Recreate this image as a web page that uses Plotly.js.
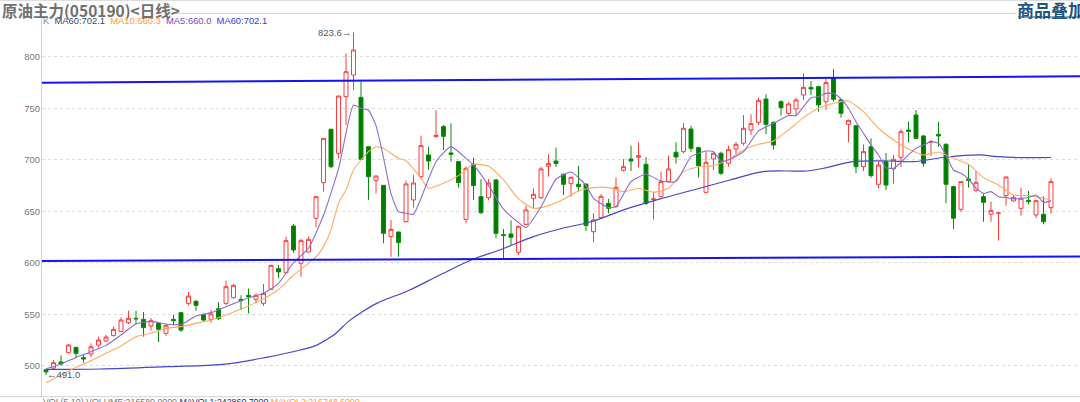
<!DOCTYPE html>
<html>
<head>
<meta charset="utf-8">
<script src="https://cdn.plot.ly/plotly-3.0.1.min.js"></script>
<style>html,body{margin:0;padding:0;background:#fff;}#chart{width:1080px;height:402px;}</style>
</head>
<body>
<div id="chart"></div>
<script>
// ---- candle data (one per trading day, left to right) ----
const openVals = [496,497.7,503.6,512.6,517.8,507.8,511.3,520,524,529.4,533.3,541.7,546,545,538.5,541.1,531.4,545,551.5,560.5,562.5,549.5,545,555.3,560.5,566,
564.4,568.3,564.4,560.5,574.1,594.2,590.3,635.6,599.4,610.4,643.1,677.7,729.5,706.2,761.2,782.2,760.5,712.6,679.6,675.1,625.3,629.8,639.8,
660.9,683.5,704.6,722.4,732.1,706.5,698.1,642.1,695.5,664.1,663.2,680.3,627.2,627.9,610.1,637.2,662.5,663.2,693.6,698.7,685.8,
676.7,676.1,676.4,630.1,643.7,657.6,654.4,689.7,700.7,702.3,695.5,661.3,664.1,678.7,707.2,707.8,729.8,711.7,668.3,700.7,706.2,
696.5,710.4,715.9,728.8,736.3,758.9,736.3,756.3,745,749.2,762.8,770.2,770.9,756.3,779.6,758,734.3,733,693.2,712.6,676.1,
698.1,691,702.3,728.8,743.4,723,717,724.6,714.9,673.8,651.8,681.3,670.3,664.1,647,647.9,665.1,659.9,652.8,660.6,646.3,647,653.4];
const highVals = [497,505.5,510,521,518.4,511,521.7,528.2,529.8,537.9,546.9,553.4,553.4,552,546.3,542.4,540.4,549.5,552.1,571.5,563.8,550.8,554,561.8,582.5,579,
568.3,574.8,570.2,579.3,598.1,597.8,625.3,637.6,623.3,625.3,664.8,721,730,762,803.3,823.6,775.7,712.6,684.2,675.1,641.5,630,679.6,
685.2,723.3,712.6,748.2,733.7,735.3,698.1,693.2,702,681.3,681.3,681.3,632.7,641.1,636,655.4,672.2,693.2,705.2,711.7,686.4,
683.5,693.9,676.4,647.9,666.4,661.9,682.6,700.7,713.6,716.9,702.6,669,688.4,703.9,716.9,735.3,733,712.6,707.8,707.8,707.8,
713.6,716.9,743.4,744,760.2,763.5,736.9,757.6,755.7,760.2,783.9,776.4,771.9,778.3,788,759,738.9,733.7,714.9,720.7,698.1,
706.5,704.6,729.8,736.9,748.2,724,719.1,736.9,715.9,674.8,679.3,695.5,689,666.4,659.3,648.5,683.8,665.7,672.8,669.6,660.9,664.4,681.9];
const lowVals = [491,496.4,500.3,512,508,503,508,517.8,523,528.2,532.7,540.4,540.4,528.2,534,523,528.8,539.2,532.7,558.6,553.4,543,541.7,544.3,558.6,565,
554,550.8,560.5,558,573.5,584.8,589.7,609.7,586.4,609.7,634.3,669,692,701.3,733.7,767.6,700,660.9,667.3,618.8,605.8,605.8,638.9,
653.4,681.9,690,721.4,709.4,698.1,672.8,638.2,660.9,647,660.6,623.7,603.6,617.2,607.5,636.6,652.8,661.9,683.5,692.9,665.7,
664.1,669,630.8,619.8,643.1,647.9,653.4,688.4,689,692.3,656,641.8,663.2,677.7,696.2,706.2,707.8,682.6,667.3,690,685.2,
693.2,704.6,713.6,724,733.7,724.6,709.7,742.8,742.8,742.1,758,762.8,746.6,748.2,756.3,740.8,716.9,686.8,689,682.6,672.2,
670.6,676.7,692.9,716.9,720,693.2,703.6,712.6,657.6,632.7,649.5,672.8,668.3,639.8,639.8,621.4,655.4,659.3,645.6,656.7,643.1,637.3,647.6];
const closeVals = [494,502.9,501.6,520.1,512,506.5,518.4,524.9,527.8,535.3,544.3,546,545.5,536.9,543.7,535.3,539.2,543.7,534.6,567.6,558.6,544.3,550.2,545.6,576.7,578,
563.1,567,568.3,570.2,597.4,591,621.4,612.3,621.4,622.7,664.1,720.7,693.2,761.8,785.4,806.5,700.3,683.5,684.2,628.5,632.4,619.5,676.4,
677.4,713.6,698.7,723.6,722.7,705.2,677.7,691.6,674.8,648.6,677.4,628.5,626.5,624.6,635.3,651.2,666.4,691,696.2,696.2,676.1,
682.9,673.8,636,641.5,664.4,652.8,673.2,693.2,698.7,703.9,657.6,661.9,678.7,691,702.6,730.5,711,694.2,697.4,706.2,686.8,
709.7,714.9,730.5,735,757.6,734.3,714.3,750.5,754.1,758,770.2,768.6,753.1,774.8,758.6,745,738.2,693.2,707.8,684.5,694.8,
675.4,700.4,727.2,727.5,720.7,696.5,717.5,723,676.1,643.1,678.7,680,678,658.6,650.8,648.2,683.2,663.5,662.5,659.3,660.2,639.8,678.7];

// ---- moving averages (day index -> value) ----
const ma5Idx = [0,2,4,6,8,10,12,14,16,18,20,22,24,26,27,29,31,33,35,37,39,41,42,43,44,45,46,47,48,49,50,52,54,56,57,59,61,63,64,66,68,70,72,73,75,76,78,80,82,84,86,88,89,90,91,93,95,97,99,100,102,103,104,105,106,107,108,109,110,111,112,113,114,115,116,117,118,119,120,121,122,123,124,125,126,127,128,129,130,131,132,133,134];
const ma5Vals = [497,501.6,508,513.6,519.7,529.8,540.5,543,540.5,539.8,548.2,551.5,557.3,563.1,566,570,580,600,614,646,691,753,750,748,733,702,667,649.5,648,647,662.5,698,712.7,701.3,694.9,675,652,639,634,654,681,688,675,662.5,653.5,654.4,678.7,685.8,679.3,678.7,703,708.4,707.8,698.7,699.7,707.8,727.9,735.3,742.8,742.8,760.2,761.2,764.4,764.4,759,749.9,736.9,725.6,714.3,704.6,692.3,691.6,697.4,704.6,711,714.3,717.5,715.9,704.6,690,686.8,681.3,672.2,667.3,669,664.1,663.2,661.9,662.5,663.2,665.7,658.6,660];
const ma10Idx = [0,2,4,6,8,10,12,14,16,18,20,22,24,26,27,29,31,33,35,36,37,38,39,40,41,42,43,44,45,46,47,48,49,50,51,53,55,57,59,61,63,65,67,69,71,73,75,77,79,81,83,85,87,89,91,93,95,97,99,101,103,105,107,109,111,113,115,117,119,121,123,125,127,129,131,133,134];
const ma10Vals = [483.5,490.9,498.4,504.9,512,519.1,528.2,531.4,536.2,537.9,541.1,544.3,549.2,555,558,565,574,588,599.4,605.8,615.6,631.7,658,670.6,690,699.7,707.8,712.6,711,706.2,701.3,699,691,681.9,672.2,677.1,684.5,695.5,693.6,680.3,661.9,652.8,655.4,661.5,669.6,672.9,672.9,669,672.2,668.3,672.2,688.4,693.2,694.2,700.2,709.4,714.9,718.2,728.8,740.8,749.9,754.7,757,746.6,730.5,719.1,710.4,704.6,707.2,701.3,695.5,682.6,675.4,665.7,665.1,662.5,660.5];
const ma60Idx = [0,7.2,16.1,23.6,29.4,33.9,36.1,38.3,40.5,41.9,44.1,48.5,52.5,57,60.5,65,68.5,73,77.4,81.9,86.3,91.2,95.6,98.8,101.4,104.1,107.6,112.5,115.6,120.1,124.5,126.8,129.9,134];
const ma60Vals = [496.5,496.8,499,501.3,508.1,515.2,520,529.5,544,551,560.5,573.5,588,603.6,612.3,625.3,632.7,640.5,652.2,661.9,670.6,680.3,688.4,689,689,692.3,698.1,698.7,698.1,702.6,704.6,703,702,702.1];

// ---- hand-drawn trend lines (day index -> value) ----
const trendX = [-0.6, 138];
const trendTop = [774.8, 780.9];
const trendBottom = [601.7, 606.0];

// ---- texts ----
const yTicks = [500,550,600,650,700,750,800];
const chartTitle = '原油主力(050190)&lt;日线&gt;';
const headerRight = '商品叠加';
const maxLabel = '823.6→';
const minLabel = '←491.0';

const dayIdx = openVals.map((_, i) => i);

// pixel helpers for paper placement (plot area: x 42..1080, y 13..397)
const PL = 42, PW = 1038, PT = 13, PB = 397, PH = PB - PT;
const px = v => (v - PL) / PW;
const py = v => (PB - v) / PH;

const traces = [
  {
    type: 'candlestick', x: dayIdx, open: openVals, high: highVals, low: lowVals, close: closeVals,
    increasing: {line: {color: '#ff3b3b', width: 1}, fillcolor: '#ffffff'},
    decreasing: {line: {color: '#0a8a0a', width: 1}, fillcolor: '#007d00'},
    whiskerwidth: 0, hoverinfo: 'skip'
  },
  {type: 'scatter', mode: 'lines', x: ma60Idx, y: ma60Vals, line: {color: '#4646c8', width: 1.2, shape: 'spline', smoothing: 1}, hoverinfo: 'skip'},
  {type: 'scatter', mode: 'lines', x: ma10Idx, y: ma10Vals, line: {color: '#ffac60', width: 1.1, shape: 'spline', smoothing: 0.5}, hoverinfo: 'skip'},
  {type: 'scatter', mode: 'lines', x: ma5Idx, y: ma5Vals, line: {color: '#8d6ccc', width: 1.1, shape: 'spline', smoothing: 0.5}, hoverinfo: 'skip'},
  {type: 'scatter', mode: 'lines', x: trendX, y: trendTop, line: {color: '#1414ee', width: 2}, hoverinfo: 'skip'},
  {type: 'scatter', mode: 'lines', x: trendX, y: trendBottom, line: {color: '#1414ee', width: 2}, hoverinfo: 'skip'}
];

const small = {family: 'Liberation Sans, Arial, sans-serif', size: 9.5, color: '#7a7a7a'};

const layout = {
  width: 1080, height: 402,
  margin: {l: PL, r: 0, t: PT, b: 402 - PB, pad: 0},
  paper_bgcolor: '#fff', plot_bgcolor: '#fff',
  showlegend: false,
  boxgap: 0.25,
  xaxis: {range: [(PL - 46) / 7.5, (1080 - 46) / 7.5], showgrid: false, zeroline: false, showticklabels: false,
          ticks: '', showline: false, rangeslider: {visible: false}, fixedrange: true},
  yaxis: {range: [469.6, 842.4], tickvals: yTicks, ticktext: yTicks.map(String), showgrid: true, gridcolor: '#dcdcdc',
          griddash: 'dot', gridwidth: 1, zeroline: false, showline: true, linecolor: '#d2d2d2', linewidth: 1,
          ticks: '', ticklabelstandoff: -1, tickfont: small, fixedrange: true},
  shapes: [
    {type: 'line', xref: 'paper', yref: 'paper', x0: px(0), x1: 1, y0: py(0.5), y1: py(0.5), line: {color: '#dddddd', width: 1}},
    {type: 'line', xref: 'paper', yref: 'paper', x0: px(176), x1: px(1016), y0: py(13.3), y1: py(13.3), line: {color: '#cfcfcf', width: 1}},
    {type: 'line', xref: 'paper', yref: 'paper', x0: px(0), x1: 1, y0: py(396.7), y1: py(396.7), line: {color: '#d2d2d2', width: 1}},
    {type: 'line', xref: 'paper', yref: 'paper', x0: px(1018), x1: 1, y0: py(17), y1: py(17), line: {color: '#1d5580', width: 1}}
  ],
  annotations: [
    {xref: 'paper', yref: 'paper', x: px(1), y: py(10), xanchor: 'left', yanchor: 'middle', showarrow: false, borderpad: 0,
     text: '<b>' + chartTitle + '</b>', font: {family: 'Noto Sans CJK SC, sans-serif', size: 15.5, color: '#707070'}},
    {xref: 'paper', yref: 'paper', x: px(1016), y: py(9.5), xanchor: 'left', yanchor: 'middle', showarrow: false, borderpad: 0,
     text: '<b>' + headerRight + '</b>', font: {family: 'Noto Sans CJK SC, sans-serif', size: 17, color: '#1d5580'}},
    {xref: 'paper', yref: 'paper', x: px(42), y: py(20.5), xanchor: 'left', yanchor: 'middle', showarrow: false, borderpad: 0,
     text: "K&nbsp;&nbsp;<span style='color:#34497a'>MA60:702.1</span>&nbsp;&nbsp;<span style='color:#ff9a3c'>MA10:660.3</span>&nbsp;&nbsp;<span style='color:#7d45c0'>MA5:660.0</span>&nbsp;&nbsp;<span style='color:#3535f0'>MA60:702.1</span>",
     font: {family: 'Liberation Sans, Arial, sans-serif', size: 9.4, color: '#888'}},
    {xref: 'paper', yref: 'paper', x: px(42), y: py(396), xanchor: 'left', yanchor: 'top', showarrow: false, borderpad: 0,
     text: "VOL(5,10) VOLUME:216580.0000 <span style='color:#1f2f5f'>MAVOL1:242860.7000</span> <span style='color:#ff9a3c'>MAVOL2:216748.6000</span>",
     font: {family: 'Liberation Sans, Arial, sans-serif', size: 8.8, color: '#777'}},
    {xref: 'x', yref: 'y', x: 41, y: 823.6, xanchor: 'right', yanchor: 'middle', xshift: -1, showarrow: false,
     text: maxLabel, font: {family: 'Liberation Sans, Arial, sans-serif', size: 9.5, color: '#4c5a6c'}},
    {xref: 'x', yref: 'y', x: 0, y: 491, xanchor: 'left', yanchor: 'middle', xshift: -1, showarrow: false,
     text: minLabel, font: {family: 'Liberation Sans, Arial, sans-serif', size: 9.5, color: '#4c5a6c'}}
  ]
};

Plotly.newPlot('chart', traces, layout, {staticPlot: true, displayModeBar: false});
</script>
</body>
</html>
